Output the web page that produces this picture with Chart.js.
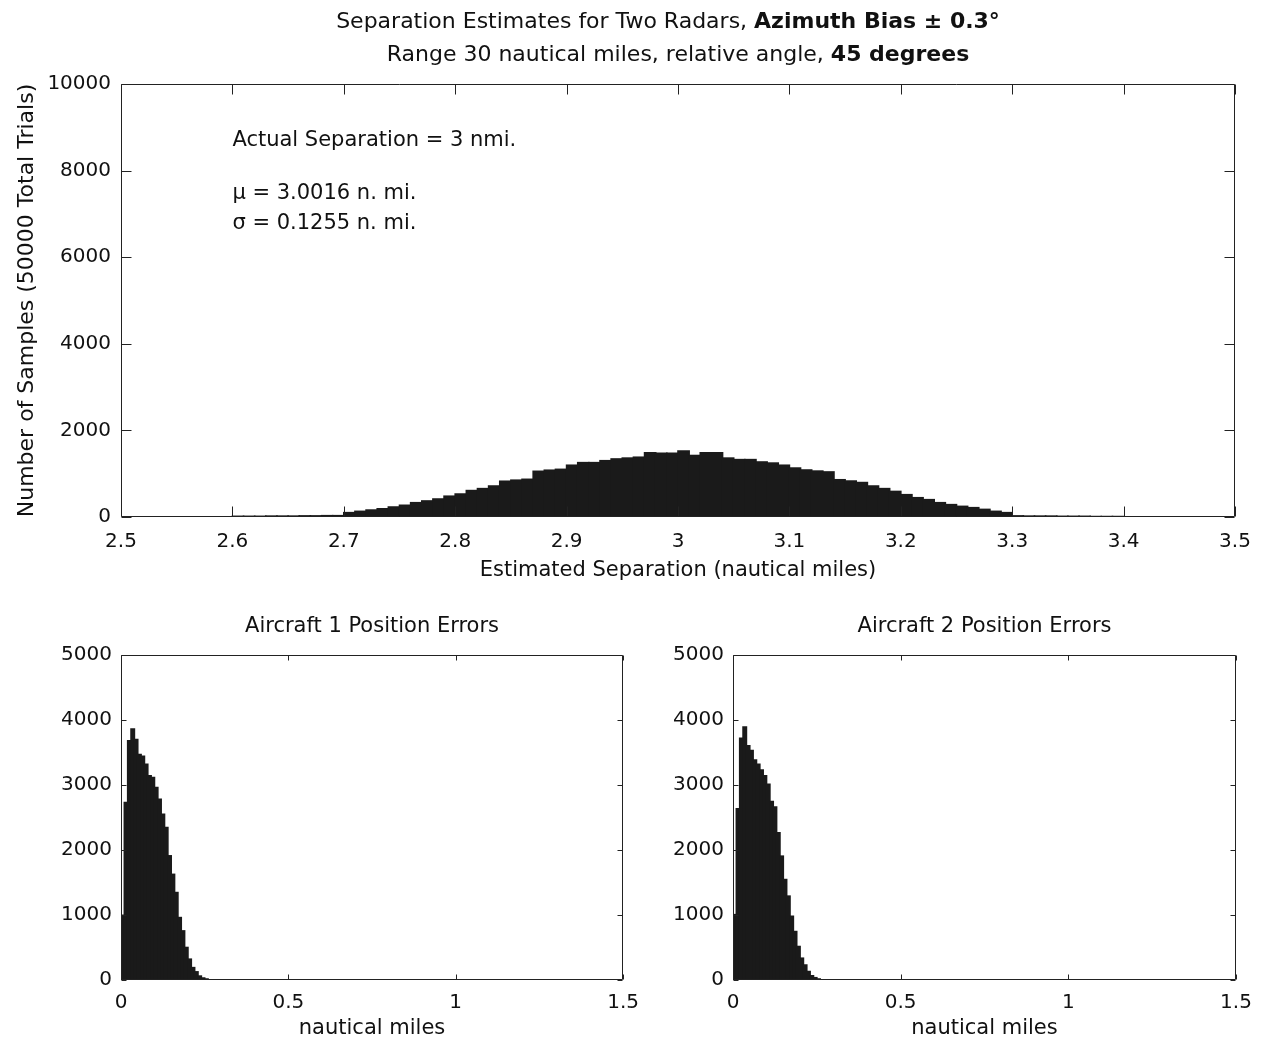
<!DOCTYPE html>
<html>
<head>
<meta charset="utf-8">
<script src="https://cdn.jsdelivr.net/npm/chart.js@4.4.1/dist/chart.umd.min.js"></script>
<style>
  html, body { margin: 0; padding: 0; background: #fff; }
  body { width: 1270px; height: 1042px; position: relative; overflow: hidden; }
  .wrap { position: absolute; }
</style>
</head>
<body>
<div class="wrap" style="left:0;top:0;width:1270px;height:590px"><canvas id="sepChart"></canvas></div>
<div class="wrap" style="left:0;top:600px;width:650px;height:442px"><canvas id="ac1Chart"></canvas></div>
<div class="wrap" style="left:640px;top:600px;width:630px;height:442px"><canvas id="ac2Chart"></canvas></div>
<script>
// estimated separation histogram: bin centres (n. mi.) and counts
const sepBins = [
  2.605, 2.615, 2.625, 2.635, 2.645, 2.655, 2.665, 2.675, 2.685, 2.695,
  2.705, 2.715, 2.725, 2.735, 2.745, 2.755, 2.765, 2.775, 2.785, 2.795,
  2.805, 2.815, 2.825, 2.835, 2.845, 2.855, 2.865, 2.875, 2.885, 2.895,
  2.905, 2.915, 2.925, 2.935, 2.945, 2.955, 2.965, 2.975, 2.985, 2.995,
  3.005, 3.015, 3.025, 3.035, 3.045, 3.055, 3.065, 3.075, 3.085, 3.095,
  3.105, 3.115, 3.125, 3.135, 3.145, 3.155, 3.165, 3.175, 3.185, 3.195,
  3.205, 3.215, 3.225, 3.235, 3.245, 3.255, 3.265, 3.275, 3.285, 3.295,
  3.305, 3.315, 3.325, 3.335, 3.345, 3.355, 3.365, 3.375, 3.385, 3.395
];
const sepCounts = [
  15, 15, 15, 20, 20, 20, 25, 25, 30, 30,
  100, 130, 160, 190, 230, 270, 330, 370, 415, 480,
  530, 610, 655, 715, 825, 850, 870, 1055, 1080, 1100,
  1195, 1255, 1255, 1300, 1340, 1360, 1380, 1485, 1470, 1470,
  1525, 1420, 1485, 1485, 1360, 1325, 1325, 1270, 1245, 1195,
  1130, 1085, 1060, 1040, 860, 830, 795, 715, 655, 590,
  515, 445, 400, 330, 285, 245, 215, 175, 130, 100,
  25, 20, 20, 20, 15, 15, 15, 10, 10, 10
];

// position error histograms: bin centres (n. mi.) and counts
const errBins = [
  0.005, 0.015, 0.025, 0.035, 0.045, 0.055, 0.065, 0.075, 0.085, 0.095,
  0.105, 0.115, 0.125, 0.135, 0.145, 0.155, 0.165, 0.175, 0.185, 0.195,
  0.205, 0.215, 0.225, 0.235, 0.245, 0.255
];
const ac1Counts = [
  995, 2730, 3680, 3860, 3700, 3470, 3440, 3320, 3140, 3115,
  2960, 2780, 2550, 2345, 1910, 1625, 1345, 960, 755, 500,
  320, 190, 125, 60, 30, 15
];
const ac2Counts = [
  1005, 2635, 3720, 3890, 3605, 3530, 3385, 3320, 3230, 3140,
  3010, 2745, 2660, 2265, 1905, 1545, 1290, 980, 745, 515,
  335, 230, 130, 65, 35, 15
];

const sepTicksX = [2.5, 3.5, 0.1];
const sepTicksY = [0, 10000, 2000];
const errTicksX = [0, 1.5, 0.5];
const errTicksY = [0, 5000, 1000];

const FONT = '"DejaVu Sans", "Liberation Sans", sans-serif';
const INK = '#1a1a1a';

// matlab style box with inward ticks, plus text notes / titles
const boxTicks = {
  id: 'boxTicks',
  afterDatasetsDraw(chart, args, o) {
    const { ctx, chartArea: a } = chart;
    const xs = chart.scales.x, ys = chart.scales.y;
    const L = o.len || 8;
    const l = Math.round(a.left) + 0.5, r = Math.round(a.right) - 0.5;
    const t = Math.round(a.top) + 0.5, b = Math.round(a.bottom) - 0.5;
    ctx.save();
    ctx.strokeStyle = '#222';
    ctx.lineWidth = 1;
    ctx.beginPath();
    ctx.rect(l, t, r - l, b - t);
    xs.ticks.forEach(tk => {
      const p = Math.round(xs.getPixelForValue(tk.value)) + 0.5;
      ctx.moveTo(p, b); ctx.lineTo(p, b - L);
      ctx.moveTo(p, t); ctx.lineTo(p, t + L);
    });
    ys.ticks.forEach(tk => {
      const p = Math.round(ys.getPixelForValue(tk.value)) + 0.5;
      ctx.moveTo(l, p); ctx.lineTo(l + L, p);
      ctx.moveTo(r, p); ctx.lineTo(r - L, p);
    });
    ctx.stroke();

    ctx.fillStyle = '#111';
    ctx.textBaseline = 'middle';
    ctx.textAlign = 'left';
    (o.notes || []).forEach(n => {
      ctx.font = '21px ' + FONT;
      ctx.fillText(n.text, xs.getPixelForValue(n.x), ys.getPixelForValue(n.y));
    });

    // centred title lines, made of parts with their own weight
    const cx = (a.left + a.right) / 2;
    (o.lines || []).forEach(line => {
      const size = line.size || 21;
      const fonts = line.parts.map(p => (p.bold ? 'bold ' : '') + size + 'px ' + FONT);
      const widths = line.parts.map((p, i) => { ctx.font = fonts[i]; return ctx.measureText(p.t).width; });
      let x = cx + (line.dx || 0) - widths.reduce((s, w) => s + w, 0) / 2;
      line.parts.forEach((p, i) => {
        ctx.font = fonts[i];
        ctx.fillText(p.t, x, a.top - line.dy);
        x += widths[i];
      });
    });
    ctx.restore();
  }
};

function makeHist(id, bins, counts, cfg) {
  const ctx = document.getElementById(id).getContext('2d');
  return new Chart(ctx, {
    type: 'bar',
    data: {
      datasets: [{
        data: bins.map((b, i) => ({ x: b, y: counts[i] })),
        backgroundColor: INK,
        borderWidth: 0,
        inflateAmount: 0.8,
        barPercentage: 1,
        categoryPercentage: 1
      }]
    },
    options: {
      responsive: true,
      maintainAspectRatio: false,
      animation: false,
      layout: { padding: cfg.padding },
      plugins: {
        legend: { display: false },
        tooltip: { enabled: false },
        boxTicks: { len: cfg.tickLen, notes: cfg.notes, lines: cfg.lines }
      },
      scales: {
        x: {
          type: 'linear',
          min: cfg.xTicks[0], max: cfg.xTicks[1],
          offset: false,
          grid: { display: false, drawTicks: false },
          border: { display: false },
          ticks: {
            stepSize: cfg.xTicks[2],
            autoSkip: false, maxRotation: 0,
            color: '#111', padding: cfg.xPad,
            font: { family: FONT, size: 20 },
            callback: v => String(+v.toFixed(2))
          },
          title: {
            display: true, text: cfg.xTitle, color: '#111',
            font: { family: FONT, size: 21 },
            padding: { top: 0, bottom: cfg.xTitlePad }
          },
          afterFit: s => { s.height = cfg.xHeight; }
        },
        y: {
          min: cfg.yTicks[0], max: cfg.yTicks[1],
          grid: { display: false, drawTicks: false },
          border: { display: false },
          ticks: {
            stepSize: cfg.yTicks[2],
            color: '#111', padding: cfg.yPad,
            font: { family: FONT, size: 20 },
            callback: v => String(v)
          },
          title: {
            display: !!cfg.yTitle, text: cfg.yTitle, color: '#111',
            font: { family: FONT, size: 22 },
            padding: { top: 14, bottom: 0 }
          },
          afterFit: s => { s.width = cfg.yWidth; }
        }
      }
    },
    plugins: [boxTicks]
  });
}

makeHist('sepChart', sepBins, sepCounts, {
  padding: { top: 84, right: 35, bottom: 0, left: 0 },
  xTicks: sepTicksX, yTicks: sepTicksY,
  xHeight: 73, yWidth: 121, xPad: 13, yPad: 10, xTitlePad: 7, tickLen: 10,
  xTitle: 'Estimated Separation (nautical miles)',
  yTitle: 'Number of Samples (50000 Total Trials)',
  notes: [
    { text: 'Actual Separation = 3 nmi.', x: 2.6, y: 8690 },
    { text: 'μ = 3.0016 n. mi.', x: 2.6, y: 7480 },
    { text: 'σ = 0.1255 n. mi.', x: 2.6, y: 6770 }
  ],
  lines: [
    { dy: 62, dx: -10, size: 22, parts: [
      { t: 'Separation Estimates for Two Radars, ' },
      { t: 'Azimuth Bias ± 0.3°', bold: true }
    ] },
    { dy: 29, size: 22, parts: [
      { t: 'Range 30 nautical miles, relative angle, ' },
      { t: '45 degrees', bold: true }
    ] }
  ]
});

makeHist('ac1Chart', errBins, ac1Counts, {
  padding: { top: 55, right: 26, bottom: 0, left: 0 },
  xTicks: errTicksX, yTicks: errTicksY,
  xHeight: 62, yWidth: 121, xPad: 11, yPad: 9, xTitlePad: 1, tickLen: 5,
  xTitle: 'nautical miles',
  lines: [{ dy: 28, size: 21, parts: [{ t: 'Aircraft 1 Position Errors' }] }]
});

makeHist('ac2Chart', errBins, ac2Counts, {
  padding: { top: 55, right: 34, bottom: 0, left: 0 },
  xTicks: errTicksX, yTicks: errTicksY,
  xHeight: 62, yWidth: 93, xPad: 11, yPad: 9, xTitlePad: 1, tickLen: 5,
  xTitle: 'nautical miles',
  lines: [{ dy: 28, size: 21, parts: [{ t: 'Aircraft 2 Position Errors' }] }]
});
</script>
</body>
</html>
